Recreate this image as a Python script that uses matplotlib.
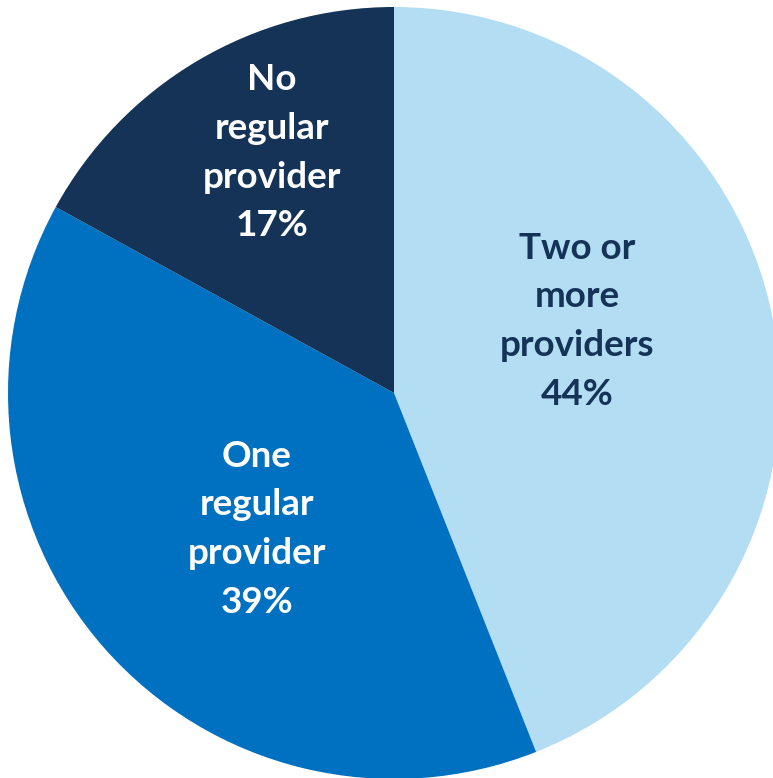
import matplotlib
matplotlib.use("Agg")
import matplotlib.pyplot as plt

plt.rcParams['font.family'] = ['Lato', 'DejaVu Sans']

labels = ["Two or\nmore\nproviders", "One\nregular\nprovider", "No\nregular\nprovider"]
shares = [44, 39, 17]
colors = ["#B2DDF3", "#0070C0", "#143357"]
text_colors = ["#143357", "white", "white"]

fig = plt.figure(figsize=(7.73, 7.78), dpi=100)
ax = fig.add_axes([0, 0, 1, 1])

ax.pie(shares, colors=colors, startangle=90, counterclock=False,
       radius=1.0, wedgeprops=dict(linewidth=0))

# pie centre at pixel (394, 393), radius 386 px
ax.set_xlim(-394 / 386, (773 - 394) / 386)
ax.set_ylim(-(778 - 393) / 386, 393 / 386)
ax.set_aspect('equal')
ax.axis('off')

label_pos = [(0.474, 0.186), (-0.355, -0.353), (-0.316, 0.622)]
for lab, pct, (x, y), tc in zip(labels, shares, label_pos, text_colors):
    ax.text(x, y, f"{lab}\n{pct}%", ha='center', va='center', color=tc,
            fontsize=26.5, fontweight='bold', linespacing=1.58)

fig.savefig("out.png", dpi=100)
